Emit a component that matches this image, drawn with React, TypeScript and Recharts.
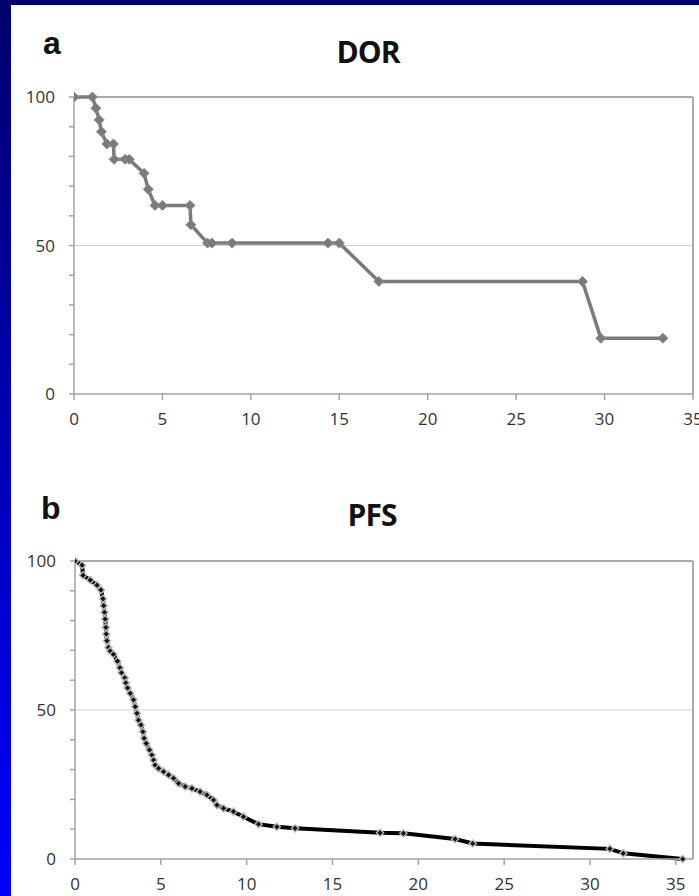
import React from 'react';
import { LineChart, Line, XAxis, YAxis, ReferenceLine } from 'recharts';

// DOR (panel a) - months vs % still responding
const dorMonths = [0, 1.04, 1.24, 1.42, 1.55, 1.86, 2.23, 2.27, 2.89, 3.12, 3.96, 4.2, 4.58, 5.0, 6.56, 6.61, 7.55, 7.8, 8.94, 14.36, 15.0, 17.24, 28.75, 29.79, 33.3];
const dorRate = [100, 100, 96.2, 92.3, 88.3, 84.2, 84.2, 79, 79, 79, 74.3, 68.9, 63.5, 63.5, 63.5, 57, 50.8, 50.8, 50.8, 50.8, 50.8, 37.9, 37.9, 18.8, 18.8];

// PFS (panel b)
const pfsMonths = [0, 0.41, 0.47, 0.89, 1.28, 1.51, 1.63, 1.67, 1.72, 1.76, 1.8, 1.82, 1.86, 1.95, 2.05, 2.24, 2.47, 2.62, 2.71, 2.9, 2.96, 3.06, 3.22, 3.41, 3.51, 3.61, 3.7, 3.84, 3.96, 4.03, 4.15, 4.34, 4.48, 4.58, 4.67, 4.87, 5.16, 5.45, 5.74, 6.03, 6.42, 6.81, 7.29, 7.68, 8.07, 8.27, 8.65, 9.23, 9.81, 10.69, 11.76, 12.82, 17.77, 19.13, 22.14, 23.17, 31.16, 31.94, 35.4];
const pfsRate = [100, 98.6, 95.2, 93.6, 91.9, 90.3, 87.3, 85.0, 82.8, 80.5, 77.7, 75.5, 73.2, 71.0, 69.8, 68.7, 66.4, 64.2, 62.5, 60.8, 59.1, 57.4, 55.6, 53.4, 51.1, 48.9, 46.6, 45.0, 42.7, 40.5, 38.8, 36.6, 34.9, 33.2, 31.5, 30.4, 29.3, 28.2, 27.1, 25.4, 24.3, 23.7, 22.6, 21.5, 19.8, 18.1, 17.0, 15.9, 14.2, 11.7, 10.8, 10.3, 8.8, 8.6, 6.7, 5.2, 3.4, 1.9, 0];

const xTicks = [0, 5, 10, 15, 20, 25, 30, 35];
const yTicks = [0, 10, 20, 30, 40, 50, 60, 70, 80, 90, 100];
const yLabels = [0, 50, 100];

const axisGray = '#a3a3a3';
const tickFont = { fontFamily: '"Open Sans", sans-serif', fontSize: 17, fill: '#333' };

const diamond = (half: number, fill: string, stroke: string, sw: number) => (props: any) => {
  const { cx, cy, index } = props;
  if (cx == null || cy == null) return <g key={index} />;
  return (
    <path
      key={index}
      d={`M${cx},${cy - half}L${cx + half},${cy}L${cx},${cy + half}L${cx - half},${cy}Z`}
      fill={fill}
      stroke={stroke}
      strokeWidth={sw}
    />
  );
};

function SurvivalChart({ months, rates, xMax, top, margin, line, width, dot }: any) {
  const data = months.map((m: number, i: number) => ({ m, v: rates[i] }));
  return (
    <div style={{ position: 'absolute', left: 0, top }}>
      <LineChart width={699} height={430} data={data} margin={margin}>
        <ReferenceLine y={50} stroke="#cfcfcf" strokeWidth={1.2} />
        <ReferenceLine y={100} stroke="#8e8e8e" strokeWidth={1.5} />
        <ReferenceLine x={xMax} stroke="#8e8e8e" strokeWidth={1.5} />
        <XAxis
          type="number"
          dataKey="m"
          domain={[0, xMax]}
          ticks={xTicks}
          interval={0}
          allowDataOverflow
          height={30}
          stroke={axisGray}
          strokeWidth={1.5}
          tickSize={6}
          tickMargin={13}
          tick={tickFont}
        />
        <YAxis
          type="number"
          domain={[0, 100]}
          ticks={yTicks}
          interval={0}
          width={40}
          stroke={axisGray}
          strokeWidth={1.5}
          tickSize={5}
          tickMargin={14}
          tick={tickFont}
          tickFormatter={(v: number) => (yLabels.includes(v) ? String(v) : '')}
        />
        <Line
          type="linear"
          dataKey="v"
          stroke={line}
          strokeWidth={width}
          dot={dot}
          activeDot={false}
          isAnimationActive={false}
        />
      </LineChart>
    </div>
  );
}

export default function App() {
  return (
    <div
      style={{
        position: 'relative',
        width: 699,
        height: 896,
        overflow: 'hidden',
        background: 'linear-gradient(to bottom, #00006c, #0000ff)',
      }}
    >
      <style>{'body{margin:0}'}</style>
      <div style={{ position: 'absolute', left: 11, top: 5, right: 0, bottom: 0, background: '#fff' }} />

      <SurvivalChart
        months={dorMonths}
        rates={dorRate}
        xMax={35}
        top={0}
        margin={{ top: 97, right: 6, bottom: 6, left: 34 }}
        line="#7a7a7a"
        width={3.5}
        dot={diamond(5, '#7a7a7a', '#8c8c8c', 1)}
      />
      <SurvivalChart
        months={pfsMonths}
        rates={pfsRate}
        xMax={36}
        top={464}
        margin={{ top: 97, right: 6, bottom: 5, left: 35 }}
        line="#000"
        width={4}
        dot={diamond(3.6, '#111', '#b8b8b8', 1.4)}
      />

      <svg width={699} height={896} style={{ position: 'absolute', left: 0, top: 0, pointerEvents: 'none' }}>
        <text x={43} y={54} fontFamily='"Liberation Sans", Arial, sans-serif' fontWeight="bold" fontSize={32} fill="#111">a</text>
        <text x={368} y={63} textAnchor="middle" fontFamily='"Open Sans", sans-serif' fontWeight="bold" fontSize={30} letterSpacing={-1} fill="#111">DOR</text>
        <text x={41} y={519} fontFamily='"Liberation Sans", Arial, sans-serif' fontWeight="bold" fontSize={32} fill="#111">b</text>
        <text x={372} y={526} textAnchor="middle" fontFamily='"Open Sans", sans-serif' fontWeight="bold" fontSize={30} letterSpacing={-1} fill="#111">PFS</text>
      </svg>
    </div>
  );
}
